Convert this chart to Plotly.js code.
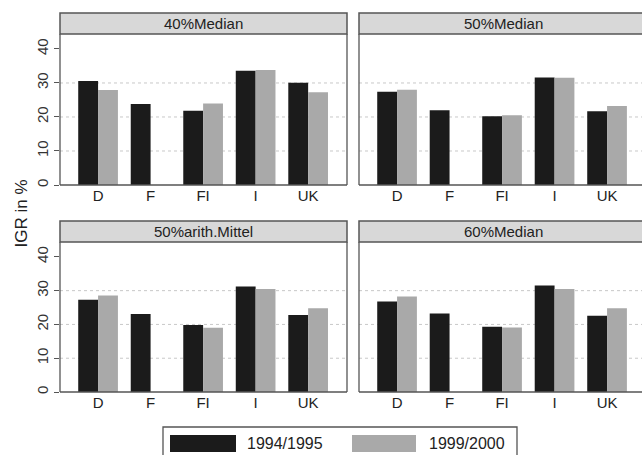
<!DOCTYPE html>
<html>
<head>
<meta charset="utf-8">
<script src="https://cdn.plot.ly/plotly-3.0.1.min.js"></script>
<style>html,body{margin:0;padding:0;background:#fff;}#chart{width:642px;height:455px;}</style>
</head>
<body>
<div id="chart"></div>
<script>
// ---- data ----
const countries = ["D", "F", "FI", "I", "UK"];
const panelTitles = ["40%Median", "50%Median", "50%arith.Mittel", "60%Median"];
const seriesNames = ["1994/1995", "1999/2000"];
const median40_9495 = [30.6, 23.8, 21.8, 33.6, 30.1];
const median40_9900 = [27.9, null, 24.0, 33.8, 27.3];
const median50_9495 = [27.4, 22.0, 20.2, 31.6, 21.7];
const median50_9900 = [28.0, null, 20.5, 31.5, 23.2];
const mittel50_9495 = [27.3, 23.1, 19.8, 31.2, 22.8];
const mittel50_9900 = [28.6, null, 19.0, 30.5, 24.8];
const median60_9495 = [26.8, 23.2, 19.3, 31.5, 22.6];
const median60_9900 = [28.3, null, 19.1, 30.5, 24.8];
const yTicks = [0, 10, 20, 30, 40];
const gridVals = [10, 20, 30];
const yAxisTitle = "IGR in %";

// ---- layout helpers ----
const W = 642, H = 455;
const px = v => v / W;
const py = v => 1 - v / H;
const colors = ["#1b1b1b", "#a9a9a9"];
const panelData = [
  [median40_9495, median40_9900],
  [median50_9495, median50_9900],
  [mittel50_9495, mittel50_9900],
  [median60_9495, median60_9900]
];
// panel geometry in pixels: [left, right(clipped), top, bottom]
const colX = [[60, 347], [359, 642]];
const rowY = [[34, 185], [242, 392]];
const stripH = 21;
const yRange = [0, 44.4];

const traces = [];
const layout = {
  width: W, height: H,
  margin: {l: 0, r: 0, t: 0, b: 0},
  paper_bgcolor: "#fff", plot_bgcolor: "#fff",
  barmode: "group", bargap: 0.244, bargroupgap: 0,
  showlegend: false,
  font: {family: "Liberation Sans, Arial, sans-serif", color: "#222"},
  shapes: [], annotations: []
};

for (let p = 0; p < 4; p++) {
  const col = p % 2, row = Math.floor(p / 2);
  const n = p + 1;
  const xa = n === 1 ? "x" : "x" + n;
  const ya = n === 1 ? "y" : "y" + n;
  for (let s = 0; s < 2; s++) {
    traces.push({
      type: "bar", x: countries, y: panelData[p][s], name: seriesNames[s],
      xaxis: xa, yaxis: ya,
      marker: {color: colors[s], line: {width: 0}},
      hoverinfo: "x+y+name"
    });
  }
  const [xl, xr] = colX[col];
  const [yt, yb] = rowY[row];
  const xRangeEnd = col === 0 ? 5.74 : 0.275 + (xr - xl) / 52.5;
  layout["xaxis" + (n === 1 ? "" : n)] = {
    domain: [px(xl), px(xr)],
    anchor: ya,
    type: "category",
    range: [-0.725, xRangeEnd - 1],
    showgrid: false, zeroline: false, showline: false,
    ticks: "", tickfont: {size: 15, color: "#222"},
    fixedrange: true
  };
  layout["yaxis" + (n === 1 ? "" : n)] = {
    domain: [py(yb), py(yt)],
    anchor: xa,
    range: yRange,
    tickvals: yTicks,
    showticklabels: col === 0,
    ticks: col === 0 ? "outside" : "",
    ticklen: 5, tickcolor: "#555", tickwidth: 1,
    tickangle: -90,
    tickfont: {size: 15, color: "#333"},
    showgrid: false, zeroline: false, showline: false,
    fixedrange: true
  };
  // gridlines
  gridVals.forEach(g => {
    layout.shapes.push({
      type: "line", xref: xa + " domain", yref: ya,
      x0: 0, x1: 1, y0: g, y1: g,
      line: {color: "#c8c8c8", width: 1, dash: "dot"}, layer: "below"
    });
  });
  // panel border
  const border = {color: "#555", width: 1.3};
  layout.shapes.push({type: "line", xref: "paper", yref: "paper", x0: px(xl), x1: px(xl), y0: py(yb), y1: py(yt), line: border});
  layout.shapes.push({type: "line", xref: "paper", yref: "paper", x0: px(xl), x1: px(col === 0 ? xr : 647), y0: py(yb), y1: py(yb), line: border});
  if (col === 0) {
    layout.shapes.push({type: "line", xref: "paper", yref: "paper", x0: px(xr), x1: px(xr), y0: py(yb), y1: py(yt), line: border});
  }
  // strip
  layout.shapes.push({
    type: "rect", xref: "paper", yref: "paper",
    x0: px(xl), x1: px(col === 0 ? xr : 647), y0: py(yt), y1: py(yt - stripH),
    fillcolor: "#d8d8d8", line: {color: "#555", width: 1.5}
  });
  layout.annotations.push({
    xref: "paper", yref: "paper",
    x: px(col === 0 ? (xl + xr) / 2 : (xl + 647) / 2), y: py(yt - stripH / 2),
    text: panelTitles[p], showarrow: false,
    font: {size: 15, color: "#222"}, xanchor: "center", yanchor: "middle"
  });
}

// y axis title
layout.annotations.push({
  xref: "paper", yref: "paper", x: px(21), y: py(213.5),
  text: yAxisTitle, showarrow: false, textangle: -90,
  font: {size: 17, color: "#222"}, xanchor: "center", yanchor: "middle"
});

// custom legend
layout.shapes.push({type: "rect", xref: "paper", yref: "paper",
  x0: px(163), x1: px(517), y0: py(427), y1: py(462),
  line: {color: "#555", width: 1.3}, fillcolor: "rgba(0,0,0,0)"});
layout.shapes.push({type: "rect", xref: "paper", yref: "paper",
  x0: px(170), x1: px(236), y0: py(435), y1: py(452),
  line: {width: 0}, fillcolor: colors[0]});
layout.shapes.push({type: "rect", xref: "paper", yref: "paper",
  x0: px(352), x1: px(416), y0: py(435), y1: py(452),
  line: {width: 0}, fillcolor: colors[1]});
layout.annotations.push({xref: "paper", yref: "paper", x: px(245), y: py(443.5),
  text: seriesNames[0], showarrow: false, xanchor: "left", yanchor: "middle",
  font: {size: 16, color: "#222"}});
layout.annotations.push({xref: "paper", yref: "paper", x: px(427), y: py(443.5),
  text: seriesNames[1], showarrow: false, xanchor: "left", yanchor: "middle",
  font: {size: 16, color: "#222"}});

Plotly.newPlot("chart", traces, layout, {displayModeBar: false, staticPlot: true});
</script>
</body>
</html>
